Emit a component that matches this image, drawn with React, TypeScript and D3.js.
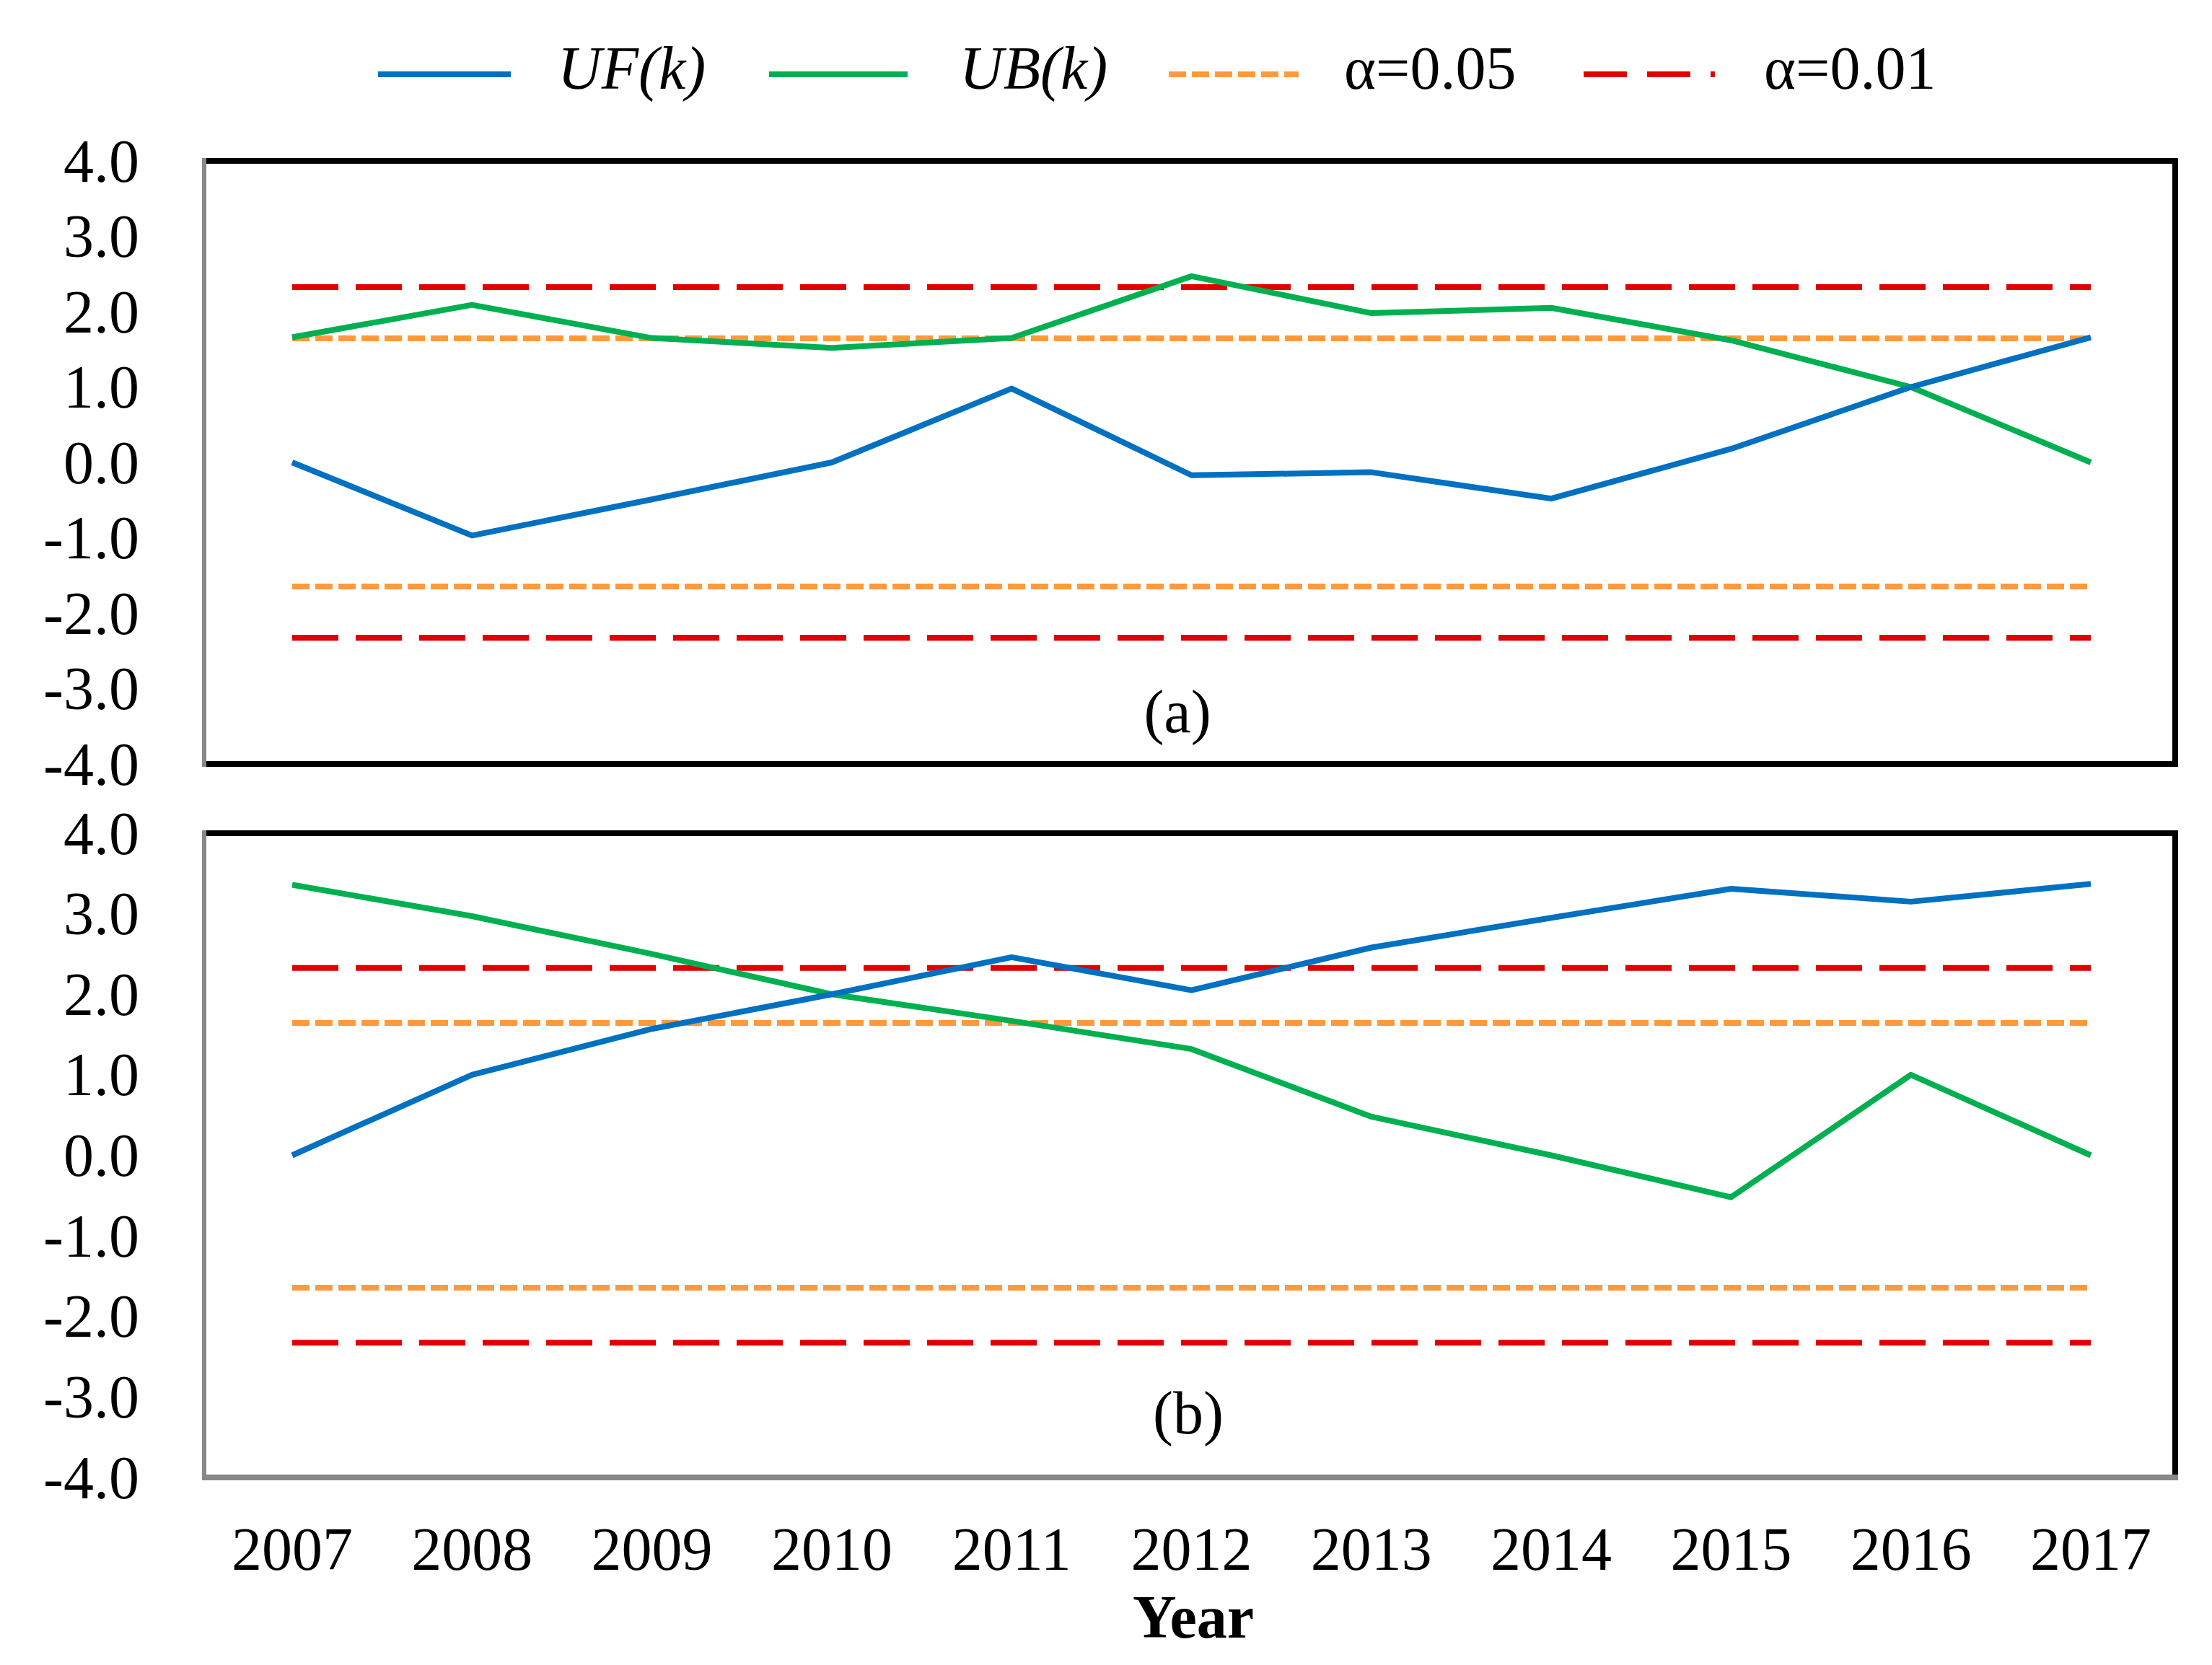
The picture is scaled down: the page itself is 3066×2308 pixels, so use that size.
import React from "react";
import * as d3 from "d3";

const years = ["2007", "2008", "2009", "2010", "2011", "2012", "2013", "2014", "2015", "2016", "2017"];
const ufA = [0, -0.97, -0.49, 0, 0.98, -0.17, -0.13, -0.48, 0.18, 1.0, 1.66];
const ubA = [1.66, 2.09, 1.65, 1.52, 1.65, 2.47, 1.98, 2.05, 1.62, 1.0, 0];
const ufB = [0, 1.0, 1.57, 2.0, 2.46, 2.05, 2.58, 2.95, 3.31, 3.15, 3.37];
const ubB = [3.36, 2.97, 2.5, 2.0, 1.67, 1.32, 0.48, 0, -0.52, 1.0, 0];
const alpha05 = 1.645;
const alpha01 = 2.326;
const yTicks = [-4, -3, -2, -1, 0, 1, 2, 3, 4];

const BLUE = "#0070C0";
const GREEN = "#00B050";
const ORANGE = "#FF9A3C";
const RED = "#E00000";
const GRAY = "#888888";
const FONT = "'Liberation Serif', 'Times New Roman', serif";

const W = 3066;
const H = 2308;
const plotLeft = 283;
const plotRight = 3015;

const x = d3.scalePoint<string>().domain(years).range([405, 2898]);

type PanelProps = {
  top: number;
  bottom: number;
  uf: number[];
  ub: number[];
  label: string;
  labelX: number;
  labelY: number;
  bottomColor: string;
};

function Panel({ top, bottom, uf, ub, label, labelX, labelY, bottomColor }: PanelProps) {
  const y = d3.scaleLinear().domain([-4, 4]).range([bottom, top]);
  const line = d3
    .line<number>()
    .x((_, i) => x(years[i]) as number)
    .y((d) => y(d));
  const x0 = x(years[0]) as number;
  const x1 = x(years[years.length - 1]) as number;
  const hline = (v: number, color: string, dash: string, key: string) => (
    <line key={key} x1={x0} x2={x1} y1={y(v)} y2={y(v)} stroke={color} strokeWidth={8} strokeDasharray={dash} />
  );
  return (
    <g>
      {yTicks.map((t) => (
        <text
          key={t}
          x={193}
          y={y(t)}
          dy="0.34em"
          textAnchor="end"
          fontFamily={FONT}
          fontSize={84}
          fill="#000"
        >
          {t.toFixed(1)}
        </text>
      ))}
      {hline(alpha01, RED, "64 24", "r1")}
      {hline(-alpha01, RED, "64 24", "r2")}
      {hline(alpha05, ORANGE, "24 8", "o1")}
      {hline(-alpha05, ORANGE, "24 8", "o2")}
      <path d={line(ub) || ""} fill="none" stroke={GREEN} strokeWidth={8} strokeLinejoin="round" />
      <path d={line(uf) || ""} fill="none" stroke={BLUE} strokeWidth={8} strokeLinejoin="round" />
      <text x={labelX} y={labelY} textAnchor="middle" fontFamily={FONT} fontSize={84} fill="#000">
        {label}
      </text>
      {/* frame */}
      <line x1={plotLeft} x2={plotRight + 4} y1={top} y2={top} stroke="#000" strokeWidth={8} />
      <line x1={plotRight} x2={plotRight} y1={top} y2={bottom} stroke="#000" strokeWidth={8} />
      <line x1={plotLeft} x2={plotRight + 4} y1={bottom} y2={bottom} stroke={bottomColor} strokeWidth={8} />
      <line x1={plotLeft} x2={plotLeft} y1={top - 4} y2={bottom + 4} stroke={GRAY} strokeWidth={6} />
    </g>
  );
}

const legendItems = [
  { name: "UF(k)", italic: true, color: BLUE, dash: "", x1: 524, x2: 708, tx: 773 },
  { name: "UB(k)", italic: true, color: GREEN, dash: "", x1: 1066, x2: 1258, tx: 1330 },
  { name: "α=0.05", italic: false, color: ORANGE, dash: "24 8", x1: 1620, x2: 1800, tx: 1863 },
  { name: "α=0.01", italic: false, color: RED, dash: "60 28", x1: 2195, x2: 2377, tx: 2445 },
];

export default function App() {
  return (
    <svg
      width={W}
      height={H}
      viewBox={`0 0 ${W} ${H}`}
      style={{ position: "absolute", left: 0, top: 0, background: "#fff" }}
    >
      <rect x={0} y={0} width={W} height={H} fill="#fff" />
      {legendItems.map((it) => (
        <g key={it.name}>
          <line x1={it.x1} x2={it.x2} y1={103} y2={103} stroke={it.color} strokeWidth={8} strokeDasharray={it.dash} />
          <text
            x={it.tx}
            y={123}
            fontFamily={FONT}
            fontSize={84}
            fontStyle={it.italic ? "italic" : "normal"}
            fill="#000"
          >
            {it.name}
          </text>
        </g>
      ))}
      <Panel top={223} bottom={1059} uf={ufA} ub={ubA} label="(a)" labelX={1632} labelY={1015} bottomColor="#000" />
      <Panel top={1155} bottom={2048} uf={ufB} ub={ubB} label="(b)" labelX={1647} labelY={1987} bottomColor={GRAY} />
      {years.map((yr) => (
        <text key={yr} x={x(yr)} y={2176} textAnchor="middle" fontFamily={FONT} fontSize={84} fill="#000">
          {yr}
        </text>
      ))}
      <text x={1654} y={2270} textAnchor="middle" fontFamily={FONT} fontSize={84} fontWeight="bold" fill="#000">
        Year
      </text>
    </svg>
  );
}
